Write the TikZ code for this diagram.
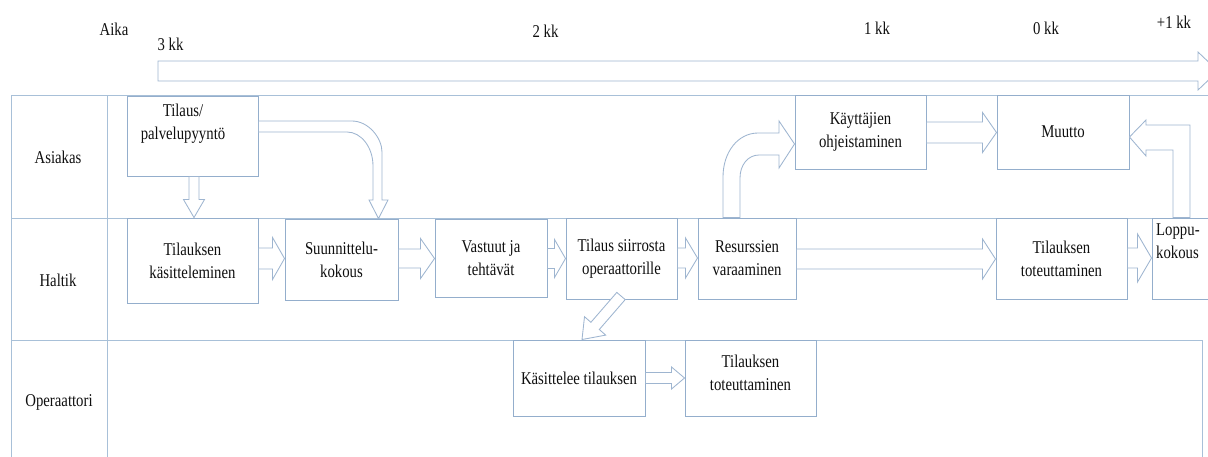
\documentclass[tikz,border=0pt]{standalone}
\usepackage{fontspec}
\setmainfont{Liberation Serif}[FakeStretch=0.82]
\usetikzlibrary{calc}
\definecolor{laneline}{RGB}{168,192,216}
\definecolor{boxline}{RGB}{148,174,204}
\definecolor{arrowline}{RGB}{158,181,208}
\definecolor{ink}{RGB}{15,15,15}
\tikzset{
  lane/.style={draw=laneline, line width=1pt},
  proc/.style={draw=boxline, line width=0.95pt, fill=white, align=center,
    inner sep=2pt, font=\fontsize{18}{23}\selectfont, text=ink},
  lbl/.style={font=\fontsize{18}{23}\selectfont, text=ink, inner sep=0pt},
  blockarrow/.style={draw=arrowline, line width=0.85pt, fill=white, line join=miter},
}
% horizontal block arrow: from, to, y centre, shaft half width, head half width, head length
\newcommand\hblock[6]{%
  \draw[blockarrow] let \p1=(#1.east), \p2=(#2.west) in
    (\x1,{(#3+#4)*1pt}) -- ({\x2-#6*1pt},{(#3+#4)*1pt}) -- ({\x2-#6*1pt},{(#3+#5)*1pt})
    -- (\x2,{#3*1pt}) -- ({\x2-#6*1pt},{(#3-#5)*1pt}) -- ({\x2-#6*1pt},{(#3-#4)*1pt})
    -- (\x1,{(#3-#4)*1pt}) -- cycle;}
% vertical (downward) block arrow: from, to, x centre, shaft half width, head half width, head length
\newcommand\vblock[6]{%
  \draw[blockarrow] let \p1=(#1.south), \p2=(#2.north) in
    ({(#3-#4)*1pt},\y1) -- ({(#3-#4)*1pt},{\y2+#6*1pt}) -- ({(#3-#5)*1pt},{\y2+#6*1pt})
    -- ({#3*1pt},\y2) -- ({(#3+#5)*1pt},{\y2+#6*1pt}) -- ({(#3+#4)*1pt},{\y2+#6*1pt})
    -- ({(#3+#4)*1pt},\y1) -- cycle;}
\begin{document}
\begin{tikzpicture}[x=1pt,y=1pt]
\clip (0,0) rectangle (1208,-456);

% swimlane frame
\draw[lane] (11,-470) -- (11,-95) -- (1220,-95);
\draw[lane] (11,-218) -- (1220,-218);
\draw[lane] (11,-340) -- (1202,-340) -- (1202,-470);
\draw[lane] (107,-95) -- (107,-470);

\node[lbl] (asiakas) at (58,-157) {Asiakas};
\node[lbl] (haltik) at (58,-280) {Haltik};
\node[lbl] (operaattori) at (59,-402) {Operaattori};

% time axis
\node[lbl] (aika) at (114,-29) {Aika};
\node[lbl] (t3) at (170.5,-44) {3 kk};
\node[lbl] (t2) at (545.5,-31) {2 kk};
\node[lbl] (t1) at (877,-28) {1 kk};
\node[lbl] (t0) at (1046,-28) {0 kk};
\node[lbl] (tp1) at (1174,-22) {+1 kk};
\coordinate (axisstart) at (158,-71);
\coordinate (axisend) at (1218,-71);
\draw[blockarrow] (axisstart |- 0,-61) -- (1198,-61) -- (1198,-52) -- (axisend)
  -- (1198,-90) -- (1198,-81) -- (axisstart |- 0,-81) -- cycle;

% process steps
\node[proc, minimum width=131, minimum height=80] (tilaus) at (192.5,-136) {};
\node[lbl, align=center] (tilaustxt) at (183,-124) {Tilaus/\\palvelupyyntö};
\node[proc, minimum width=131, minimum height=74] (kayt) at (860.5,-132) {Käyttäjien\\ohjeistaminen};
\node[proc, minimum width=132, minimum height=74] (muutto) at (1063,-132) {Muutto};

\node[proc, minimum width=131, minimum height=85] (tk) at (192.5,-260.5) {Tilauksen\\käsitteleminen};
\node[proc, minimum width=113, minimum height=81] (suun) at (341.5,-259.5) {Suunnittelu-\\kokous};
\node[proc, minimum width=112, minimum height=78] (vast) at (491,-258) {Vastuut ja\\tehtävät};
\node[proc, minimum width=111, minimum height=81] (siir) at (621.5,-258.5) {Tilaus siirrosta\\operaattorille};
\node[proc, minimum width=98, minimum height=81] (res) at (747,-258.5) {Resurssien\\varaaminen};
\node[proc, minimum width=131, minimum height=81] (toth) at (1061.5,-258.5) {Tilauksen\\toteuttaminen};
\node[proc, minimum width=66, minimum height=81] (loppu) at (1185,-258.5) {};
\node[lbl, align=left, anchor=north west] (lopputxt) at (1156,-224) {Loppu-\\kokous};

\node[proc, minimum width=132, minimum height=76] (kasit) at (579,-378) {Käsittelee tilauksen};
\node[proc, minimum width=131, minimum height=76] (toto) at (750.5,-378) {};
\node[lbl, align=center] (tototxt) at (750.5,-373) {Tilauksen\\toteuttaminen};

% flow arrows
\vblock{tilaus}{tk}{194}{5}{10.5}{18}
\hblock{tk}{suun}{-258.5}{10.5}{21}{12}
\hblock{suun}{vast}{-258.5}{9.5}{20}{14}
\hblock{vast}{siir}{-258.5}{10}{19}{11}
\hblock{siir}{res}{-258}{10}{20}{12}
\hblock{res}{toth}{-259}{10}{20}{13}
\hblock{toth}{loppu}{-258}{10}{24}{14}
\hblock{kayt}{muutto}{-132.5}{10.5}{20}{14}
\hblock{kasit}{toto}{-378}{5.5}{11}{13}

% order to planning meeting
\draw[blockarrow] (tilaus.east |- 0,-121) -- (352,-121)
  .. controls (368.5,-121) and (382,-138) .. (382,-152) -- (382,-200) -- (388,-200)
  -- (378.5,0 |- suun.north) -- (369,-200) -- (373,-200) -- (373,-166)
  .. controls (373,-147) and (361,-132) .. (347,-132) -- (tilaus.east |- 0,-132) -- cycle;

% resources to user guidance
\draw[blockarrow] (723,0 |- res.north) -- (723,-177)
  .. controls (723,-152) and (738,-133) .. (758,-133) -- (779,-133) -- (779,-121)
  -- (kayt.west |- 0,-144) -- (779,-168) -- (779,-155) -- (759,-155)
  .. controls (748,-155) and (740,-165) .. (740,-178) -- (740,0 |- res.north) -- cycle;

% closing meeting back to the move
\draw[blockarrow] (1190,0 |- loppu.north) -- (1190,-125) -- (1146,-125) -- (1146,-120)
  -- (muutto.east |- 0,-137) -- (1146,-156) -- (1146,-150) -- (1173,-150)
  -- (1173,0 |- loppu.north) -- cycle;

% hand-over to the operator
\draw[blockarrow] (625.2,-299.6) -- (599.3,-329.5) -- (605.7,-335.1) -- (582,0 |- kasit.north)
  -- (584.5,-316.7) -- (590.9,-322.3) -- (616.8,-292.4) -- cycle;
\end{tikzpicture}
\end{document}
